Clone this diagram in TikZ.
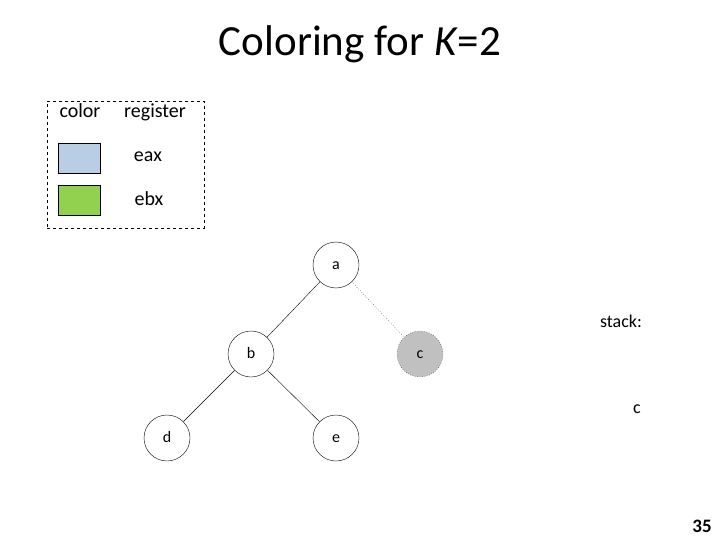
\documentclass[tikz,border=0pt]{standalone}
\usepackage{fontspec}
\setmainfont{Carlito}
\definecolor{regblue}{RGB}{185,205,229}
\definecolor{reggreen}{RGB}{146,208,80}
\definecolor{spillgray}{RGB}{192,192,192}
\begin{document}
\begin{tikzpicture}[x=1pt,y=-1pt,
  vnode/.style={circle,draw,minimum size=46pt,inner sep=0pt,text height=8pt,text depth=0pt,font=\fontsize{16}{18}\selectfont},
  swatch/.style={draw,minimum width=42pt,minimum height=30pt,inner sep=0pt},
  lbl/.style={font=\fontsize{20}{22}\selectfont,inner sep=0pt,anchor=base}]
\useasboundingbox (0,0) rectangle (720,540);
\node[font=\fontsize{43}{46}\selectfont,inner sep=0pt,anchor=base] (title) at (360,56) {Coloring for \textit{K}=2};
\node[draw,dashed,minimum width=157pt,minimum height=127pt,inner sep=0pt] (legend) at (125.5,164.5) {};
\node[lbl] (colorhdr) at (80,118) {color};
\node[lbl] (reghdr) at (155,118) {register};
\node[swatch,fill=regblue] (sw1) at (79,158) {};
\node[swatch,fill=reggreen] (sw2) at (79,200) {};
\node[lbl] (eax) at (148,162) {eax};
\node[lbl] (ebx) at (149,206) {ebx};
\node[vnode] (a) at (336,265) {a};
\node[vnode] (b) at (251,354) {b};
\node[vnode,dotted,fill=spillgray] (c) at (420,354) {c};
\node[vnode] (d) at (167,438) {d};
\node[vnode] (e) at (336,438) {e};
\draw (a) -- (b);
\draw[dotted] (a) -- (c);
\draw (b) -- (d);
\draw (b) -- (e);
\node[lbl,font=\fontsize{18}{20}\selectfont] (stack) at (621,327) {stack:};
\node[lbl,font=\fontsize{18}{20}\selectfont] (sc) at (637,413) {c};
\node[lbl,font=\fontsize{19}{21}\selectfont\bfseries] (pg) at (702,532) {35};
\end{tikzpicture}
\end{document}
